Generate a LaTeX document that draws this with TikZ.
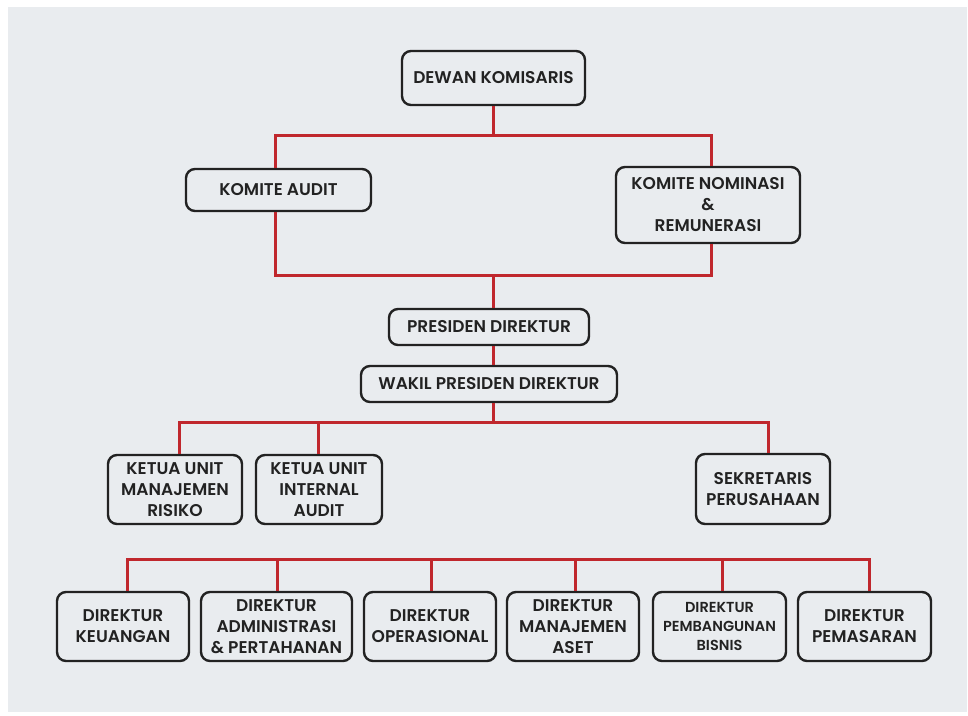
\documentclass[tikz,border=0pt]{standalone}
\usepackage{fontspec}
\setmainfont{Poppins}[BoldFont=* SemiBold]
\definecolor{bgc}{HTML}{E9ECEF}
\definecolor{redc}{HTML}{C0272D}
\definecolor{bordc}{HTML}{222222}
\tikzset{
  box/.style={draw=bordc, line width=2.4pt, rounded corners=9pt, fill=bgc,
    align=center, inner sep=0pt, text=bordc, font=\bfseries\fontsize{17}{21}\selectfont},
  link/.style={draw=redc, line width=3pt},
}
\begin{document}
\begin{tikzpicture}[x=1pt,y=-1pt]
\useasboundingbox (0,0) rectangle (968,715);
\fill[white] (0,0) rectangle (968,715);
\fill[bgc] (8,7) rectangle (967,712);

\coordinate (top) at (493,135);
\coordinate (mid) at (493,275);
\coordinate (row1) at (493,422);
\coordinate (row2) at (500,559);

\node[box, minimum width=183pt, minimum height=54pt] (dk) at (493.5,78) {DEWAN KOMISARIS};
\node[box, minimum width=185pt, minimum height=42pt] (ka) at (278.5,190) {KOMITE AUDIT};
\node[box, minimum width=184pt, minimum height=76pt] (knr) at (708,205) {KOMITE NOMINASI\\\&\\REMUNERASI};
\node[box, minimum width=200pt, minimum height=36pt] (pd) at (489,327) {PRESIDEN DIREKTUR};
\node[box, minimum width=256pt, minimum height=36pt] (wpd) at (489,384) {WAKIL PRESIDEN DIREKTUR};
\node[box, minimum width=134pt, minimum height=69pt] (kum) at (175,489.5) {KETUA UNIT\\MANAJEMEN\\RISIKO};
\node[box, minimum width=126pt, minimum height=69pt] (kui) at (319,489.5) {KETUA UNIT\\INTERNAL\\AUDIT};
\node[box, minimum width=134pt, minimum height=70pt] (sp) at (763,489) {SEKRETARIS\\PERUSAHAAN};
\node[box, minimum width=132pt, minimum height=69pt] (keu) at (123,626.5) {DIREKTUR\\KEUANGAN};
\node[box, minimum width=151pt, minimum height=69pt] (adm) at (276.5,626.5) {DIREKTUR\\ADMINISTRASI\\\& PERTAHANAN};
\node[box, minimum width=132pt, minimum height=69pt] (ops) at (430,626.5) {DIREKTUR\\OPERASIONAL};
\node[box, minimum width=132pt, minimum height=69pt] (ase) at (573,626.5) {DIREKTUR\\MANAJEMEN\\ASET};
\node[box, minimum width=133pt, minimum height=69pt, font=\bfseries\fontsize{14.5}{19}\selectfont] (pbg) at (719.5,626.5) {DIREKTUR\\PEMBANGUNAN\\BISNIS};
\node[box, minimum width=133pt, minimum height=69pt] (pms) at (864.5,626.5) {DIREKTUR\\PEMASARAN};

\draw[link] (dk.south -| top) -- (top);
\draw[link] ([xshift=-3pt]ka.north) |- (top) -| ([xshift=3pt]knr.north);
\draw[link] ([xshift=-3pt]ka.south) |- (mid) -| ([xshift=3pt]knr.south);
\draw[link] (mid) -- (pd.north -| mid);
\draw[link] (pd.south -| mid) -- (wpd.north -| mid);
\draw[link] (wpd.south -| row1) -- (row1);
\draw[link] ([xshift=4pt]kum.north) |- (row1) -| ([xshift=5pt]sp.north);
\draw[link] ([xshift=-1pt]kui.north) -- ([xshift=-1pt]kui.north |- row1);
\draw[link] ([xshift=4pt]keu.north) |- (row2) -| ([xshift=4.5pt]pms.north);
\draw[link] ([xshift=0.5pt]adm.north) -- ([xshift=0.5pt]adm.north |- row2);
\draw[link] ([xshift=1pt]ops.north) -- ([xshift=1pt]ops.north |- row2);
\draw[link] ([xshift=2pt]ase.north) -- ([xshift=2pt]ase.north |- row2);
\draw[link] ([xshift=2.5pt]pbg.north) -- ([xshift=2.5pt]pbg.north |- row2);
\end{tikzpicture}
\end{document}
